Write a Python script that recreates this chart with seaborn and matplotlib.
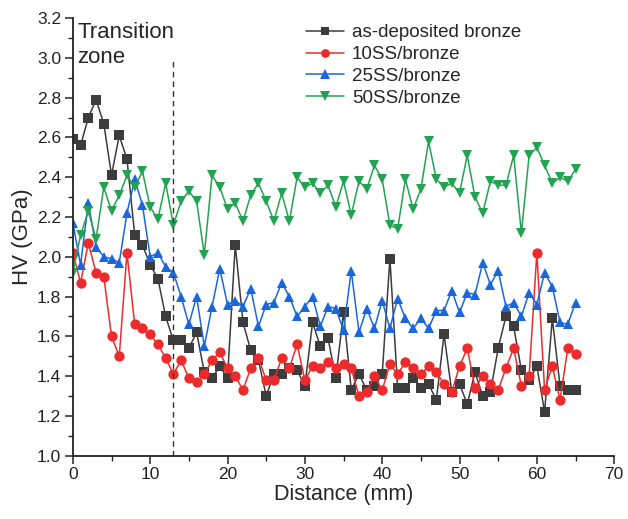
import matplotlib
matplotlib.use("Agg")
import matplotlib.pyplot as plt
import seaborn as sns
import pandas as pd
from matplotlib.ticker import MultipleLocator

distance = list(range(66))

as_deposited = [2.59, 2.56, 2.70, 2.79, 2.67, 2.41, 2.61, 2.49, 2.11, 2.06,
                1.96, 1.89, 1.70, 1.58, 1.58, 1.54, 1.62, 1.42, 1.39, 1.45,
                1.39, 2.06, 1.67, 1.53, 1.48, 1.30, 1.41, 1.41, 1.44, 1.43,
                1.35, 1.67, 1.55, 1.59, 1.39, 1.72, 1.33, 1.41, 1.33, 1.35,
                1.41, 1.99, 1.34, 1.34, 1.39, 1.34, 1.36, 1.28, 1.61, 1.32,
                1.36, 1.26, 1.42, 1.30, 1.32, 1.54, 1.70, 1.65, 1.43, 1.38,
                1.45, 1.22, 1.69, 1.35, 1.33, 1.33]

ss10 = [2.02, 1.87, 2.07, 1.92, 1.90, 1.60, 1.50, 2.02, 1.66, 1.64,
        1.61, 1.56, 1.49, 1.41, 1.48, 1.39, 1.37, 1.41, 1.48, 1.52,
        1.44, 1.40, 1.33, 1.44, 1.49, 1.38, 1.38, 1.49, 1.44, 1.56,
        1.38, 1.45, 1.44, 1.47, 1.44, 1.46, 1.44, 1.30, 1.32, 1.40,
        1.33, 1.46, 1.41, 1.47, 1.44, 1.41, 1.45, 1.42, 1.36, 1.32,
        1.45, 1.54, 1.34, 1.40, 1.36, 1.33, 1.44, 1.54, 1.35, 1.40,
        2.02, 1.33, 1.45, 1.28, 1.54, 1.51]

ss25 = [2.17, 1.96, 2.27, 2.05, 2.00, 1.99, 1.97, 2.22, 2.39, 2.26,
        2.00, 2.02, 1.95, 1.92, 1.80, 1.66, 1.80, 1.55, 1.75, 1.94,
        1.76, 1.78, 1.75, 1.84, 1.65, 1.76, 1.77, 1.87, 1.80, 1.70,
        1.75, 1.80, 1.65, 1.75, 1.74, 1.63, 1.93, 1.62, 1.74, 1.64,
        1.78, 1.64, 1.79, 1.69, 1.64, 1.69, 1.64, 1.73, 1.73, 1.83,
        1.72, 1.82, 1.81, 1.97, 1.86, 1.93, 1.75, 1.77, 1.70, 1.82,
        1.76, 1.92, 1.85, 1.67, 1.66, 1.77]

ss50 = [1.92, 2.11, 2.23, 2.09, 2.35, 2.23, 2.31, 2.41, 2.35, 2.43,
        2.25, 2.19, 2.37, 2.16, 2.28, 2.33, 2.28, 2.01, 2.41, 2.35,
        2.24, 2.27, 2.18, 2.31, 2.37, 2.28, 2.18, 2.32, 2.18, 2.40,
        2.35, 2.37, 2.32, 2.36, 2.25, 2.38, 2.21, 2.38, 2.34, 2.46,
        2.39, 2.16, 2.14, 2.39, 2.24, 2.34, 2.58, 2.39, 2.35, 2.37,
        2.32, 2.51, 2.30, 2.22, 2.38, 2.36, 2.36, 2.51, 2.12, 2.51,
        2.55, 2.46, 2.37, 2.40, 2.38, 2.44]

labels = ["as-deposited bronze", "10SS/bronze", "25SS/bronze", "50SS/bronze"]
colors = ["#3c3c3c", "#ec2c2c", "#1a66dd", "#22a352"]
markers = ["s", "o", "^", "v"]
msizes = [6.8, 7.4, 7.8, 7.8]
series = [as_deposited, ss10, ss25, ss50]

transition_x = 13

sns.set_style("white")
plt.rcParams["font.family"] = ["Liberation Sans", "DejaVu Sans"]

fig = plt.figure(figsize=(6.28, 5.19), dpi=100)
ax = fig.add_axes([0.116, 0.122, 0.862, 0.843])

for lab, col, mk, ms, vals in zip(labels, colors, markers, msizes, series):
    df = pd.DataFrame({"Distance": distance, "HV": vals})
    sns.lineplot(data=df, x="Distance", y="HV", ax=ax, color=col, marker=mk,
                 markersize=ms, markeredgewidth=0, linewidth=1.1, label=lab)

ax.axvline(transition_x, ymin=0, ymax=2.0 / 2.2, color="#333333",
           linestyle=(0, (4, 3)), linewidth=1.0)

ax.set_xlim(0, 70)
ax.set_ylim(1.0, 3.2)
ax.xaxis.set_major_locator(MultipleLocator(10))
ax.xaxis.set_minor_locator(MultipleLocator(5))
ax.yaxis.set_major_locator(MultipleLocator(0.2))
ax.yaxis.set_minor_locator(MultipleLocator(0.1))
ax.yaxis.set_major_formatter(plt.FuncFormatter(lambda v, p: f"{v:.1f}"))

for s in ["top", "right"]:
    ax.spines[s].set_visible(False)
for s in ["left", "bottom"]:
    ax.spines[s].set_color("#222222")
    ax.spines[s].set_linewidth(1.3)

ax.tick_params(axis="both", which="major", direction="out", length=6,
               width=1.1, labelsize=12.5, colors="#222222", left=True,
               bottom=True, pad=2.5)
ax.tick_params(axis="both", which="minor", direction="out", length=3.5,
               width=1.0, colors="#222222", left=True, bottom=True)

ax.set_xlabel("Distance (mm)", fontsize=15.5, labelpad=1)
ax.set_ylabel("HV (GPa)", fontsize=16, labelpad=3)

ax.text(0.6, 3.065, "Transition\nzone", fontsize=16, ha="left", va="center",
        linespacing=1.2)

leg = ax.legend(loc="upper left", bbox_to_anchor=(0.41, 1.012), frameon=False,
                fontsize=13.5, handlelength=2.0, handletextpad=0.45,
                labelspacing=0.25, borderaxespad=0.2, markerscale=0.85)

fig.savefig("out.png", dpi=100)
